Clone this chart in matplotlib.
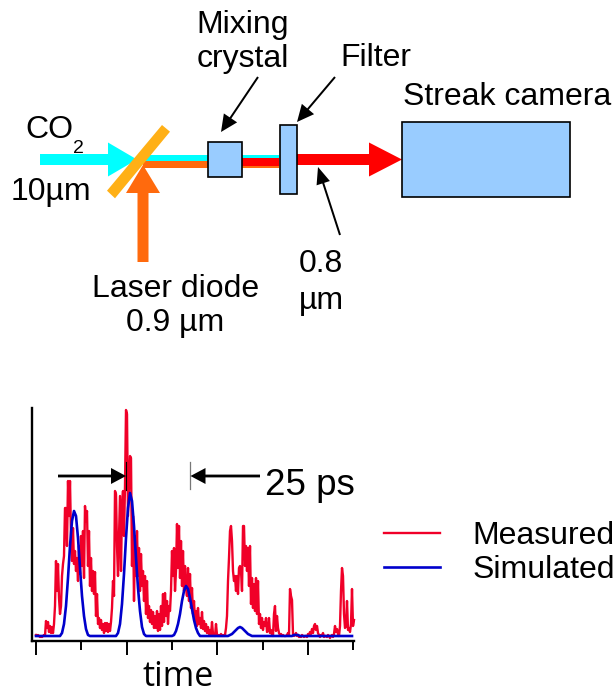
import numpy as np
import matplotlib
matplotlib.use("Agg")
import matplotlib.pyplot as plt
from matplotlib.patches import Polygon, Rectangle

plt.rcParams['font.family'] = ['Liberation Sans', 'DejaVu Sans']

# ---- data (time in ps, intensity in arbitrary units) ----
sample_ps = 25 / 90.67
measured = [
 1,0,1,0,-1,0,-1,0,1,0,
 15,8,14,4,10,3,9,3,12,30,
 75,45,72,38,22,30,60,72,80,128,
 128,90,155,120,155,100,75,108,72,85,
 65,78,55,90,62,100,70,105,58,130,
 115,125,70,105,50,78,45,65,42,64,
 20,42,12,18,8,16,6,12,3,13,
 5,13,4,12,5,14,28,55,40,145,
 142,90,60,100,140,65,130,145,100,150,
 226,222,120,150,180,178,70,120,35,100,
 60,105,60,88,45,82,50,65,35,60,
 22,55,18,30,14,26,12,24,8,20,
 8,25,5,22,6,30,10,42,14,43,
 20,35,12,30,25,45,85,60,88,45,
 65,112,68,110,58,95,50,85,45,70,
 48,40,68,35,62,28,48,22,35,15,
 25,10,28,12,18,8,24,7,15,5,
 12,3,9,2,6,1,14,2,1,0,
 12,1,0,1,0,2,0,1,0,1,
 8,20,55,78,105,110,95,65,55,60,
 45,60,42,68,70,65,45,110,110,70,
 90,65,88,50,90,32,58,28,52,25,
 58,22,55,12,22,8,18,6,14,10,
 18,4,5,18,3,6,1,0,22,30,
 5,20,8,3,1,2,0,1,0,0,
 0,1,3,1,47,40,36,2,0,1,
 3,0,1,-1,0,-1,1,0,-1,0,
 0,-1,2,1,4,2,7,3,10,12,
 6,10,3,1,-1,1,0,3,-1,0,
 0,-1,1,0,-2,0,1,-1,2,10,
 4,7,2,0,10,45,68,60,22,8,
 10,35,6,8,4,12,47,10,16,
]
simulated = [
 0,0,0,0,0,0,0,0,0,0,0,0,
 0,3,12,30,58,90,115,125,120,98,68,40,20,7,1,
 0,0,0,0,0,0,0,0,0,0,0,0,0,
 0,3,12,32,62,98,128,143,135,110,78,48,25,9,2,
 0,0,0,0,0,0,0,0,0,0,0,0,0,
 0,1,5,12,22,35,45,50,47,38,27,16,8,3,0,
 0,0,0,0,0,0,0,0,0,0,0,0,0,
 0,1,2,4,6,8,9,8,6,4,2,1,0,0,
 0,0,0,0,0,0,0,0,0,0,0,0,0,0,0,0,0,0,0,
 1,1,1,0,
 0,0,0,0,0,0,0,0,0,0,0,0,0,0,0,0,0,0,0,0,0,0,0,0,0,0,
]
major_ticks = [0, 25, 50, 75]
minor_ticks = [12.5, 37.5, 62.5, 87.5]
series_names = ['Measured', 'Simulated']
RED, BLUE = '#f00028', '#0000cc'

W, H = 615, 694
fig = plt.figure(figsize=(W / 100, H / 100), dpi=100)

# ---- plot axes, placed in pixel terms ----
L, R, T, B = 32, 354, 408, 641
ax = fig.add_axes([L / W, 1 - B / H, (R - L) / W, (B - T) / H])
px = 90.67 / 25
ax.set_xlim(-(36 - L) / px, (R - 36) / px)
ax.set_ylim(-(B - 636), 636 - T)
t_m = np.arange(len(measured)) * sample_ps
t_s = np.arange(len(simulated)) * sample_ps * 2
ax.plot(t_m, measured, color=RED, lw=1.7, label=series_names[0], clip_on=False)
ax.plot(t_s, simulated, color=BLUE, lw=1.9, label=series_names[1], clip_on=False)
for s in ('top', 'right'):
    ax.spines[s].set_visible(False)
for s in ('left', 'bottom'):
    ax.spines[s].set_linewidth(1.7)
ax.set_xticks(major_ticks)
ax.set_xticks(minor_ticks, minor=True)
ax.set_yticks([])
ax.tick_params(axis='x', which='major', length=10, width=1.4, labelbottom=False)
ax.tick_params(axis='x', which='minor', length=6.5, width=1.4)
ax.legend(loc='upper left', bbox_to_anchor=(384 / W, 1 - 521.5 / H),
          bbox_transform=fig.transFigure, frameon=False, fontsize=23,
          handlelength=1.75, handletextpad=1.03, labelspacing=0.1,
          borderpad=0, borderaxespad=0)

# ---- schematic overlay in pixel coordinates ----
ov = fig.add_axes([0, 0, 1, 1], facecolor='none')
ov.set_xlim(0, W)
ov.set_ylim(H, 0)
ov.axis('off')

def arrow(x0, y0, x1, y1, width, hlen, hhalf, color, z=2):
    d = np.array([x1 - x0, y1 - y0], float)
    L_ = np.hypot(*d)
    u = d / L_
    n = np.array([-u[1], u[0]])
    a, b = np.array([x0, y0], float), np.array([x1, y1], float)
    c = b - u * hlen
    w = width / 2
    pts = [a + n * w, c + n * w, c + n * hhalf, b, c - n * hhalf, c - n * w, a - n * w]
    ov.add_patch(Polygon(pts, closed=True, fc=color, ec='none', zorder=z))

def box(x0, y0, x1, y1, z=5):
    ov.add_patch(Rectangle((x0, y0), x1 - x0, y1 - y0, fc='#99ccff', ec='black', lw=1.2, zorder=z))

CYAN, ORANGE, BEAMRED, MIRROR = '#00ffff', '#ff6a0d', '#ff0000', '#ffb016'
ov.add_patch(Rectangle((146, 155), 133, 7, fc=CYAN, ec='none', zorder=1))
ov.add_patch(Rectangle((143, 161), 136, 7, fc=ORANGE, ec='none', zorder=1.1))
ov.add_patch(Rectangle((242, 158), 37, 8, fc=BEAMRED, ec='none', zorder=1.2))
arrow(40, 159.5, 137, 159.5, 11, 29, 17, CYAN, z=2)
ov.add_patch(Polygon([(107, 190.7), (115, 198.3), (170, 131.7), (162, 125)], closed=True,
                     fc=MIRROR, ec='none', zorder=3))
arrow(143, 262, 143, 165, 11, 28, 17, ORANGE, z=4)
arrow(297, 159.5, 402, 159.5, 11, 33, 17, BEAMRED, z=2)
box(207.5, 142, 242, 177)
box(279.5, 125, 297, 194)
box(401.5, 121.5, 569.5, 197)

arrow(258, 77, 221, 132, 2, 17, 8, 'black', z=6)
arrow(335, 77, 297, 122, 2, 17, 8, 'black', z=6)
arrow(340, 235, 318, 167, 2, 17, 7, 'black', z=6)

FS = 23
def txt(x, y, s, ha='center', fs=FS, **kw):
    ov.text(x, y, s, ha=ha, va='center', fontsize=fs, color='black', zorder=8, **kw)

txt(243, 25, 'Mixing')
txt(243, 59, 'crystal')
txt(340, 58, 'Filter', ha='left')
txt(403, 97, 'Streak camera', ha='left')
txt(25, 130, 'CO', ha='left')
txt(73, 148, '2', ha='left', fs=14)
txt(11, 192, '10µm', ha='left')
txt(176, 289, 'Laser diode')
txt(175, 323, '0.9 µm')
txt(321, 264, '0.8')
txt(321, 301, 'µm')

# annotation in plot
ov.plot([126, 126], [462, 490], color='black', lw=0.8, zorder=6)
ov.plot([190, 190], [462, 489], color='#777777', lw=0.9, zorder=6)
arrow(58, 476, 126, 476, 2.8, 15, 8, 'black', z=7)
arrow(260, 476, 190.5, 476, 2.8, 15, 8, 'black', z=7)
txt(265, 485, '25 ps', ha='left', fs=26.5)
txt(178, 677, 'time', fs=24.5, family=['Open Sans'])

fig.savefig('out.png', dpi=100)
